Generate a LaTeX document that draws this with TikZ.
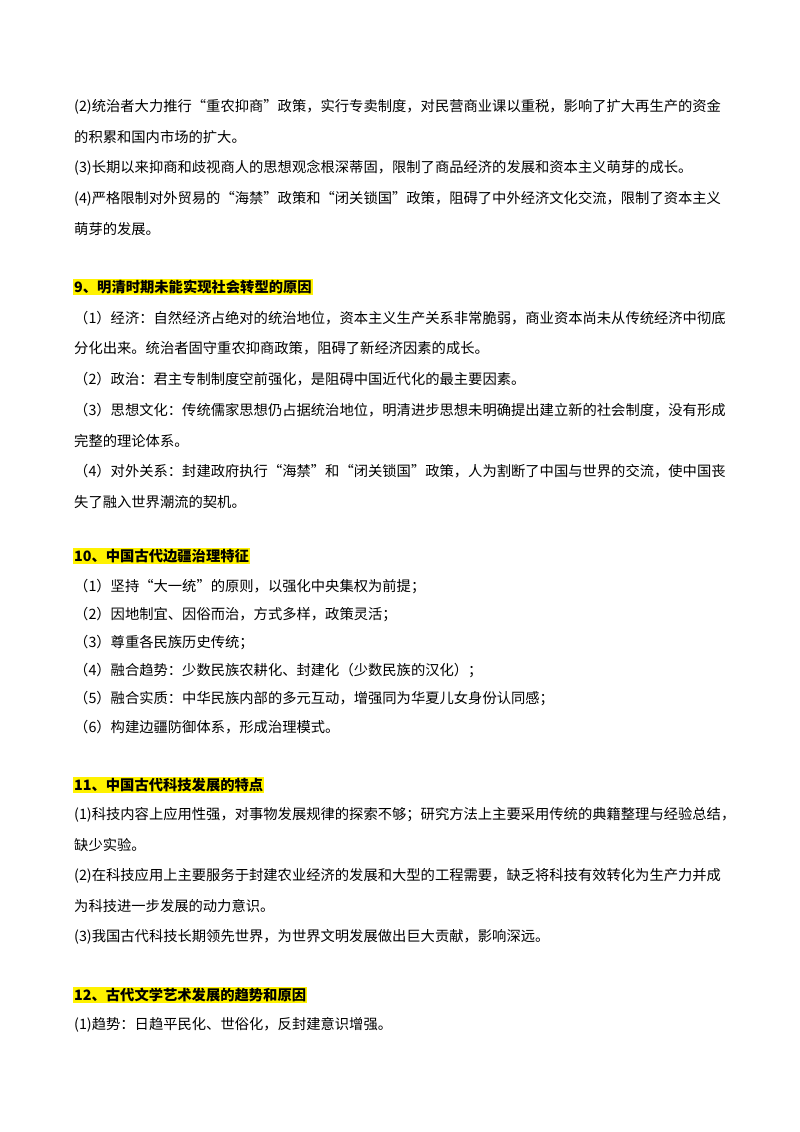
\documentclass[tikz,border=0pt]{standalone}
\usepackage{fontspec}
\setmainfont{Noto Sans CJK SC}
\begin{document}
\begin{tikzpicture}[x=1pt,y=-1pt,
  ln/.style={anchor=west,inner sep=0pt,font=\fontsize{14.3}{15}\selectfont},
  hd/.style={anchor=west,inner sep=1pt,fill=yellow,font=\fontsize{14.3}{15}\selectfont\bfseries}]
\useasboundingbox (0,0) rectangle (800,1132);
\node[ln] (a1) at (74,107) {(2)统治者大力推行“重农抑商”政策，实行专卖制度，对民营商业课以重税，影响了扩大再生产的资金};
\node[ln] (a2) at (74,137) {的积累和国内市场的扩大。};
\node[ln] (a3) at (74,168) {(3)长期以来抑商和歧视商人的思想观念根深蒂固，限制了商品经济的发展和资本主义萌芽的成长。};
\node[ln] (a4) at (74,199) {(4)严格限制对外贸易的“海禁”政策和“闭关锁国”政策，阻碍了中外经济文化交流，限制了资本主义};
\node[ln] (a5) at (74,229) {萌芽的发展。};
\node[hd] (h9) at (73,287) {9、明清时期未能实现社会转型的原因};
\node[ln] (b1) at (74,318) {（1）经济：自然经济占绝对的统治地位，资本主义生产关系非常脆弱，商业资本尚未从传统经济中彻底};
\node[ln] (b2) at (74,348) {分化出来。统治者固守重农抑商政策，阻碍了新经济因素的成长。};
\node[ln] (b3) at (74,379) {（2）政治：君主专制制度空前强化，是阻碍中国近代化的最主要因素。};
\node[ln] (b4) at (74,410) {（3）思想文化：传统儒家思想仍占据统治地位，明清进步思想未明确提出建立新的社会制度，没有形成};
\node[ln] (b5) at (74,441) {完整的理论体系。};
\node[ln] (b6) at (74,471) {（4）对外关系：封建政府执行“海禁”和“闭关锁国”政策，人为割断了中国与世界的交流，使中国丧};
\node[ln] (b7) at (74,502) {失了融入世界潮流的契机。};
\node[hd] (h10) at (73,556) {10、中国古代边疆治理特征};
\node[ln] (c1) at (74,587) {（1）坚持“大一统”的原则，以强化中央集权为前提；};
\node[ln] (c2) at (74,615) {（2）因地制宜、因俗而治，方式多样，政策灵活；};
\node[ln] (c3) at (74,643) {（3）尊重各民族历史传统；};
\node[ln] (c4) at (74,671) {（4）融合趋势：少数民族农耕化、封建化（少数民族的汉化）；};
\node[ln] (c5) at (74,699) {（5）融合实质：中华民族内部的多元互动，增强同为华夏儿女身份认同感；};
\node[ln] (c6) at (74,727) {（6）构建边疆防御体系，形成治理模式。};
\node[hd] (h11) at (73,785) {11、中国古代科技发展的特点};
\node[ln] (d1) at (74,815) {(1)科技内容上应用性强，对事物发展规律的探索不够；研究方法上主要采用传统的典籍整理与经验总结，};
\node[ln] (d2) at (74,845) {缺少实验。};
\node[ln] (d3) at (74,876) {(2)在科技应用上主要服务于封建农业经济的发展和大型的工程需要，缺乏将科技有效转化为生产力并成};
\node[ln] (d4) at (74,906) {为科技进一步发展的动力意识。};
\node[ln] (d5) at (74,937) {(3)我国古代科技长期领先世界，为世界文明发展做出巨大贡献，影响深远。};
\node[hd] (h12) at (73,995) {12、古代文学艺术发展的趋势和原因};
\node[ln] (e1) at (74,1025) {(1)趋势：日趋平民化、世俗化，反封建意识增强。};
\end{tikzpicture}
\end{document}
